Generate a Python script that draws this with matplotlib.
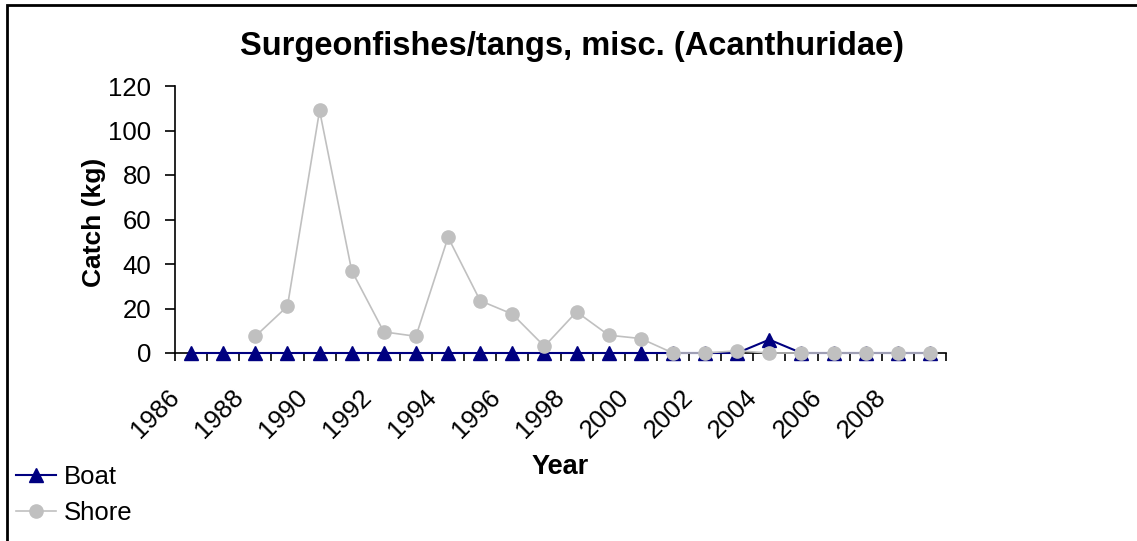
import numpy as np
import matplotlib.pyplot as plt
from matplotlib.patches import Rectangle
from matplotlib.lines import Line2D
from matplotlib.transforms import ScaledTranslation

plt.rcParams['font.family'] = ['Liberation Sans', 'DejaVu Sans']

years = list(range(1986, 2010))
boat = [0, 0, 0, 0, 0, 0, 0, 0, 0, 0, 0, 0, 0, 0, 0, 0, 0, 0, 6, 0, 0, 0, 0, 0]
shore = [np.nan, np.nan, 7.5, 21, 109, 37, 9.5, 7.5, 52, 23.5, 17.5, 3, 18.5, 8,
         6.5, 0, 0, 1, 0, 0, 0, 0, 0, 0]
yticks = [0, 20, 40, 60, 80, 100, 120]

W, H = 1137, 541
fig = plt.figure(figsize=(W / 100, H / 100), dpi=100)
fig.patches.append(Rectangle((7 / W, -0.1), 1.2, (H - 5) / H + 0.1, transform=fig.transFigure,
                             fill=False, edgecolor='black', linewidth=2))

ax = fig.add_axes([175 / W, (H - 353) / H, (946 - 175) / W, (353 - 86) / H])
x = np.arange(len(years))
ax.plot(x, boat, color='#000080', marker='^', markersize=10, linewidth=1.5, zorder=3)
ax.plot(x, shore, color='#C0C0C0', marker='o', markersize=9.5, linewidth=1.2, zorder=4)

ax.set_xlim(-0.5, len(years) - 0.5)
ax.set_ylim(0, 120)
ax.set_yticks(yticks)
ax.set_xticks(np.arange(-0.5, len(years), 1))
ax.set_xticklabels([])
ax.set_xticks(x[::2], minor=True)
ax.set_xticklabels([str(y) for y in years[::2]], minor=True, rotation=45,
                   ha='center', va='top')
ax.tick_params(axis='x', which='minor', length=0, pad=23, labelsize=18.5)
ax.tick_params(axis='x', which='major', length=6, width=1.2, direction='out')
ax.tick_params(axis='y', length=7, width=1.2, labelsize=18.5, pad=10)
shift = ScaledTranslation(-36 / 100, 0, fig.dpi_scale_trans)
for lab in ax.get_xticklabels(minor=True):
    lab.set_transform(lab.get_transform() + shift)
for s in ['top', 'right']:
    ax.spines[s].set_visible(False)
for s in ['left', 'bottom']:
    ax.spines[s].set_linewidth(1.2)
for ln in ax.lines:
    ln.set_clip_on(False)

fig.text(572 / W, 1 - 47 / H, 'Surgeonfishes/tangs, misc. (Acanthuridae)',
         ha='center', va='center', fontsize=23.5, fontweight='bold')
fig.text(94 / W, 1 - 222 / H, 'Catch (kg)', ha='center', va='center',
         rotation=90, fontsize=19, fontweight='bold')
fig.text(560 / W, 1 - 467 / H, 'Year', ha='center', va='center',
         fontsize=19.5, fontweight='bold')

handles = [Line2D([], [], color='#000080', marker='^', markersize=10, linewidth=1.5),
           Line2D([], [], color='#C0C0C0', marker='o', markersize=9.5, linewidth=1.2)]
fig.legend(handles, ['Boat', 'Shore'], loc='upper left', bbox_to_anchor=(11 / W, 1 - 460 / H),
           frameon=False, fontsize=18.5, handlelength=1.55, handletextpad=0.3,
           labelspacing=0.45, borderaxespad=0, borderpad=0.2)

fig.savefig('out.png', dpi=100)
